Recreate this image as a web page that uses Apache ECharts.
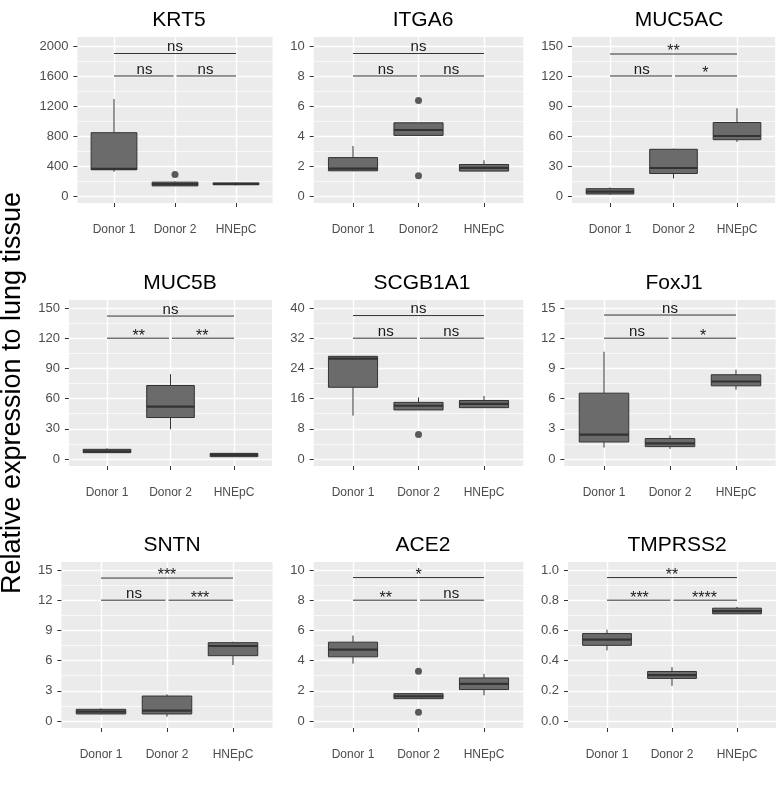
<!DOCTYPE html>
<html>
<head>
<meta charset="utf-8">
<script src="https://cdn.jsdelivr.net/npm/echarts@6/dist/echarts.min.js"></script>
<style>
  html, body { margin: 0; padding: 0; background: #fff; }
  #main { width: 777px; height: 788px; }
</style>
</head>
<body>
<div id="main"></div>
<script>
// panel titles and group names
const genes = ['KRT5', 'ITGA6', 'MUC5AC', 'MUC5B', 'SCGB1A1', 'FoxJ1', 'SNTN', 'ACE2', 'TMPRSS2']
const groups = ['Donor 1', 'Donor 2', 'HNEpC']
const groupsITGA6 = ['Donor 1', 'Donor2', 'HNEpC']

// y axis: top tick and step for every panel
const yMax = [2000, 10, 150, 150, 40, 15, 15, 10, 1.0]
const yStep = [400, 2, 30, 30, 8, 3, 3, 2, 0.2]

// boxes: [lower whisker, Q1, median, Q3, upper whisker] for Donor 1, Donor 2, HNEpC
const boxKRT5 = [[324, 350, 362, 844, 1293], [130, 135, 160, 185, 195], [140, 150, 160, 175, 180]]
const boxITGA6 = [[1.65, 1.68, 1.83, 2.56, 3.33], [4.04, 4.04, 4.4, 4.88, 4.88], [1.65, 1.66, 1.88, 2.1, 2.38]]
const boxMUC5AC = [[1, 2, 4.3, 7.3, 8.6], [17.5, 22.5, 28, 46.7, 47.4], [54, 56.3, 60, 73.5, 87.7]]
const boxMUC5B = [[6, 6.3, 7.6, 9.6, 10.6], [29.5, 41.2, 52, 73, 84.3], [2, 2.3, 4, 5.6, 6]]
const boxSCGB1A1 = [[11.5, 19, 26.6, 27.2, 27.3], [13, 13, 14.1, 15, 16.3], [13.6, 13.6, 14.6, 15.5, 16.7]]
const boxFoxJ1 = [[1.13, 1.69, 2.42, 6.54, 10.66], [1.0, 1.23, 1.56, 2.03, 2.33], [6.88, 7.27, 7.7, 8.37, 8.87]]
const boxSNTN = [[0.65, 0.7, 0.93, 1.16, 1.26], [0.43, 0.7, 1.03, 2.48, 2.65], [5.56, 6.49, 7.45, 7.78, 7.88]]
const boxACE2 = [[3.8, 4.25, 4.73, 5.22, 5.66], [1.45, 1.48, 1.64, 1.81, 1.85], [1.7, 2.08, 2.46, 2.85, 3.12]]
const boxTMPRSS2 = [[0.468, 0.501, 0.539, 0.579, 0.605], [0.233, 0.282, 0.304, 0.328, 0.357], [0.71, 0.71, 0.727, 0.747, 0.756]]

// outliers: [group (1..3), value]
const outKRT5 = [[2, 288]]
const outITGA6 = [[2, 6.36], [2, 1.35]]
const outSCGB1A1 = [[2, 6.5]]
const outACE2 = [[2, 3.3], [2, 0.58]]

// significance brackets: compared groups, heights and labels
const sigPairs = [[1, 3], [1, 2], [2, 3]]
const sigY = [[1900, 1600, 1600], [9.5, 8, 8], [142, 120, 120], [142, 120, 120], [38, 32, 32],
  [14.3, 12, 12], [14.2, 12, 12], [9.5, 8, 8], [0.95, 0.8, 0.8]]
const sigLabel = [['ns', 'ns', 'ns'], ['ns', 'ns', 'ns'], ['**', 'ns', '*'], ['ns', '**', '**'], ['ns', 'ns', 'ns'],
  ['ns', 'ns', '*'], ['***', 'ns', '***'], ['*', '**', 'ns'], ['**', '***', '****']]

const boxes = [boxKRT5, boxITGA6, boxMUC5AC, boxMUC5B, boxSCGB1A1, boxFoxJ1, boxSNTN, boxACE2, boxTMPRSS2]
const outliers = [outKRT5, outITGA6, [], [], outSCGB1A1, [], [], outACE2, []]

// layout (pixels)
const panelX1 = [114, 353, 610, 107, 353, 604, 101, 353, 607]
const panelSp = [61, 65.5, 63.5, 63.5, 65.5, 66, 66, 65.5, 65]
const titleCx = [174, 418, 674, 175, 417, 669, 167, 418, 672]
const rowGreyTop = [37, 300, 562]
const rowGreyBottom = [203, 466, 728]
const rowTopTick = [46, 308, 570]
const rowZero = [196, 459, 721]

const FONT = 'Liberation Sans, Arial, Helvetica, sans-serif'
const BG = '#EBEBEB'

function renderBox(params, api) {
  const x = api.value(0)
  const lo = api.coord([x, api.value(1)])
  const q1 = api.coord([x, api.value(2)])
  const md = api.coord([x, api.value(3)])
  const q3 = api.coord([x, api.value(4)])
  const hi = api.coord([x, api.value(5)])
  const half = api.size([0.75, 0])[0] / 2
  const line = { stroke: '#333333', lineWidth: 1 }
  return {
    type: 'group',
    children: [
      { type: 'line', shape: { x1: lo[0], y1: lo[1], x2: q1[0], y2: q1[1] }, style: line },
      { type: 'line', shape: { x1: q3[0], y1: q3[1], x2: hi[0], y2: hi[1] }, style: line },
      { type: 'rect', shape: { x: q3[0] - half, y: q3[1], width: half * 2, height: q1[1] - q3[1] },
        style: { fill: '#6B6B6B', stroke: '#333333', lineWidth: 1 } },
      { type: 'line', shape: { x1: md[0] - half, y1: md[1], x2: md[0] + half, y2: md[1] },
        style: { stroke: '#333333', lineWidth: 2.2 } }
    ]
  }
}

function bracketRenderer(labels) {
  return function (params, api) {
    const x1 = api.value(0)
    const x2 = api.value(1)
    const a = api.coord([x1, api.value(2)])
    const b = api.coord([x2, api.value(2)])
    const ax = a[0] + (x1 === 2 ? 1.5 : 0)
    const bx = b[0] - (x2 === 2 ? 1.5 : 0)
    const label = labels[params.dataIndex]
    const stars = label !== 'ns'
    return {
      type: 'group',
      children: [
        { type: 'line', shape: { x1: ax, y1: a[1], x2: bx, y2: b[1] }, style: { stroke: '#333333', lineWidth: 1 } },
        { type: 'text', x: (a[0] + b[0]) / 2, y: stars ? a[1] + 6 : a[1] + 1,
          style: { text: label, fill: '#1A1A1A', fontSize: stars ? 16 : 15, fontFamily: FONT,
            align: 'center', verticalAlign: 'bottom' } }
      ]
    }
  }
}

const grid = []
const xAxis = []
const yAxis = []
const series = []
const title = []
const graphic = []

genes.forEach((gene, i) => {
  const row = Math.floor(i / 3)
  const x1 = panelX1[i]
  const sp = panelSp[i]
  const greyLeft = x1 - 0.6 * sp
  const main = grid.length
  const names = i === 1 ? groupsITGA6 : groups

  // grey panel background
  graphic.push({
    type: 'rect', z: -10, silent: true,
    shape: { x: greyLeft, y: rowGreyTop[row], width: 3.2 * sp, height: rowGreyBottom[row] - rowGreyTop[row] },
    style: { fill: BG }
  })

  // grid holding the data and the y scale
  grid.push({ left: greyLeft, top: rowTopTick[row], width: 3.2 * sp, height: rowZero[row] - rowTopTick[row] })
  xAxis.push({ gridIndex: main, type: 'value', min: 0.4, max: 3.6, show: false })
  yAxis.push({
    gridIndex: main, type: 'value', min: 0, max: yMax[i], interval: yStep[i],
    axisLine: { show: false },
    axisTick: { show: true, length: 4, lineStyle: { color: '#333333', width: 1 } },
    axisLabel: { color: '#4D4D4D', fontSize: 13, fontFamily: FONT, margin: 9,
      formatter: v => (yMax[i] === 1 ? v.toFixed(1) : String(v)) },
    splitLine: { show: true, lineStyle: { color: '#FFFFFF', width: 1.4 } },
    minorTick: { show: false, splitNumber: 2 },
    minorSplitLine: { show: true, lineStyle: { color: '#FFFFFF', width: 0.7 } }
  })

  // grid for the group axis (vertical grid lines, ticks and names)
  grid.push({ left: x1, top: rowGreyTop[row], width: 2 * sp, height: rowGreyBottom[row] - rowGreyTop[row] })
  xAxis.push({
    gridIndex: main + 1, type: 'value', min: 1, max: 3, interval: 1,
    axisLine: { show: false },
    axisTick: { show: true, length: 4, lineStyle: { color: '#333333', width: 1 } },
    axisLabel: { color: '#4D4D4D', fontSize: 12, fontFamily: FONT, margin: 21,
      formatter: v => names[v - 1] || '' },
    splitLine: { show: true, lineStyle: { color: '#FFFFFF', width: 1.4 } }
  })
  yAxis.push({ gridIndex: main + 1, type: 'value', min: 0, max: 1, show: false })

  series.push({
    type: 'custom', xAxisIndex: main, yAxisIndex: main, z: 3,
    renderItem: renderBox,
    encode: { x: 0, y: [1, 2, 3, 4, 5] },
    data: boxes[i].map((b, g) => [g + 1].concat(b))
  })
  if (outliers[i].length) {
    series.push({
      type: 'scatter', xAxisIndex: main, yAxisIndex: main, z: 4,
      symbolSize: 7, itemStyle: { color: '#333333' },
      data: outliers[i]
    })
  }
  series.push({
    type: 'custom', xAxisIndex: main, yAxisIndex: main, z: 4,
    renderItem: bracketRenderer(sigLabel[i]),
    encode: { x: [0, 1], y: 2 },
    data: sigPairs.map((p, k) => [p[0], p[1], sigY[i][k]])
  })

  title.push({
    text: gene, left: titleCx[i], top: rowGreyTop[row] - 32, textAlign: 'center',
    textStyle: { fontSize: 21, fontWeight: 'normal', color: '#000000', fontFamily: FONT }
  })
})

graphic.push({
  type: 'text', x: 13, y: 393, rotation: Math.PI / 2,
  style: { text: 'Relative expression to lung tissue', fontSize: 27, fontFamily: FONT,
    fill: '#000000', align: 'center', verticalAlign: 'middle' }
})

const chart = echarts.init(document.getElementById('main'))
chart.setOption({
  backgroundColor: '#FFFFFF',
  animation: false,
  title,
  grid,
  xAxis,
  yAxis,
  series,
  graphic
})
</script>
</body>
</html>
